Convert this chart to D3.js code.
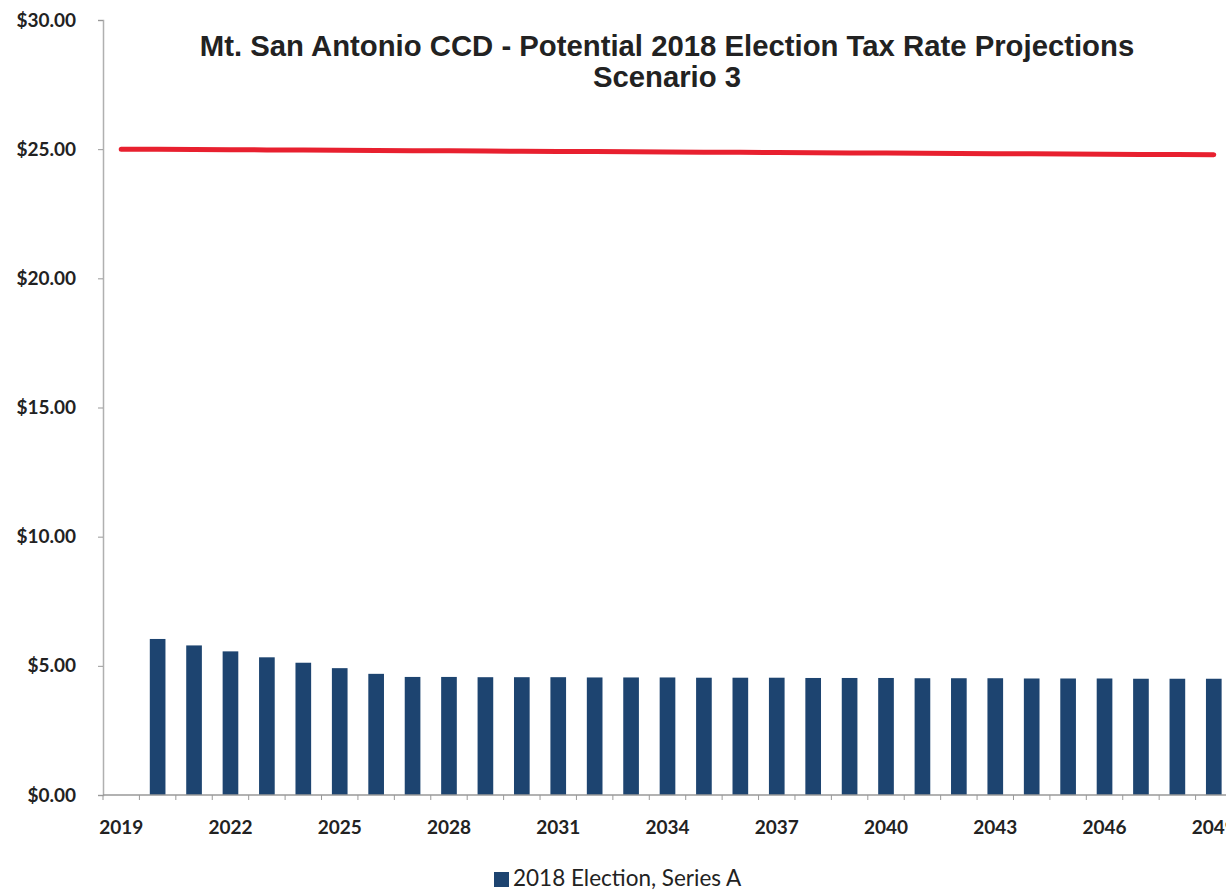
<!DOCTYPE html>
<html><head><meta charset="utf-8">
<script src="https://cdn.jsdelivr.net/npm/d3@7"></script>
<style>body{margin:0;background:#fff}svg{display:block}</style>
</head><body><svg id="c" width="1226" height="891"></svg>
<script>
const years = d3.range(2019, 2050).map(String);
const seriesA = [null, 6.04, 5.79, 5.56, 5.33, 5.12, 4.91, 4.69, 4.57, 4.57, 4.56, 4.56, 4.56, 4.55, 4.55, 4.55, 4.54, 4.54, 4.54, 4.53, 4.53, 4.53, 4.52, 4.52, 4.52, 4.51, 4.51, 4.51, 4.50, 4.50, 4.50];
const limitLine = [25.00, 25.00, 24.99, 24.98, 24.97, 24.97, 24.96, 24.95, 24.94, 24.94, 24.93, 24.92, 24.91, 24.91, 24.90, 24.89, 24.88, 24.88, 24.87, 24.86, 24.85, 24.85, 24.84, 24.83, 24.82, 24.82, 24.81, 24.80, 24.79, 24.79, 24.78];
const yTicks = [0, 5, 10, 15, 20, 25, 30];
const xLabels = ["2019","2022","2025","2028","2031","2034","2037","2040","2043","2046","2049"];
const titleLines = ["Mt. San Antonio CCD - Potential 2018 Election Tax Rate Projections", "Scenario 3"];
const legendLabel = "2018 Election, Series A";

const svg = d3.select("#c");
const x = d3.scaleBand().domain(years).range([103, 1232]).paddingInner(0.57).paddingOuter(0.285);
const xb = d3.scaleBand().domain(years).range([103, 1232]);
const y = d3.scaleLinear().domain([0, 30]).range([795, 20]);
const barColor = "#1d4470";

// title
svg.selectAll("text.title").data(titleLines).join("text")
  .attr("x", 667).attr("y", (d,i)=>56 + i*31)
  .attr("text-anchor","middle")
  .style("font-family","'Liberation Sans', Arial, sans-serif")
  .style("font-weight","bold").style("font-size","29.3px").style("fill","#222")
  .text(d=>d);

// bars
svg.append("g").selectAll("rect").data(years.map((yr,i)=>({yr, v: seriesA[i]})).filter(d=>d.v!=null))
  .join("rect")
  .attr("x", d=>x(d.yr)).attr("width", x.bandwidth())
  .attr("y", d=>y(d.v)).attr("height", d=>y(0)-y(d.v))
  .attr("fill", barColor);

// axes
const gy = svg.append("g").attr("transform","translate(103,0)")
  .call(d3.axisLeft(y).tickValues(yTicks).tickSize(5).tickPadding(22).tickFormat(d=>"$"+d3.format(".2f")(d)));
gy.select(".domain").attr("stroke","#b0b0b0").attr("stroke-width",1.5);
gy.selectAll(".tick line").attr("stroke","#999");
gy.selectAll("text").style("font-family","Lato, 'Open Sans', sans-serif").style("font-weight","bold").style("font-size","19px").style("fill","#222");

const gx = svg.append("g").attr("transform","translate(0,795)");
gx.append("line").attr("x1",103).attr("x2",1226).attr("stroke","#999").attr("stroke-width",1.5);
gx.selectAll("line.t").data(years).join("line").attr("class","t")
  .attr("x1", d=>xb(d)).attr("x2", d=>xb(d)).attr("y1",0).attr("y2",5).attr("stroke","#999");
gx.selectAll("text").data(xLabels).join("text")
  .attr("x", d=>xb(d)+xb.bandwidth()/2).attr("y", 39)
  .attr("text-anchor","middle")
  .style("font-family","Lato, 'Open Sans', sans-serif").style("font-weight","bold").style("font-size","19px").style("fill","#222")
  .text(d=>d);

// red line
const line = d3.line().x((d,i)=>xb(years[i])+xb.bandwidth()/2).y(d=>y(d));
svg.append("path").datum(limitLine).attr("d", line)
  .attr("fill","none").attr("stroke","#e8202f").attr("stroke-width",5).attr("stroke-linecap","round");

// legend
const lg = svg.append("g");
lg.append("rect").attr("x",494).attr("y",872).attr("width",15).attr("height",15).attr("fill",barColor);
lg.append("text").attr("x",513).attr("y",886)
  .style("font-family","Lato, 'Open Sans', sans-serif").style("font-size","22.5px").style("fill","#222")
  .text(legendLabel);
</script></body></html>
